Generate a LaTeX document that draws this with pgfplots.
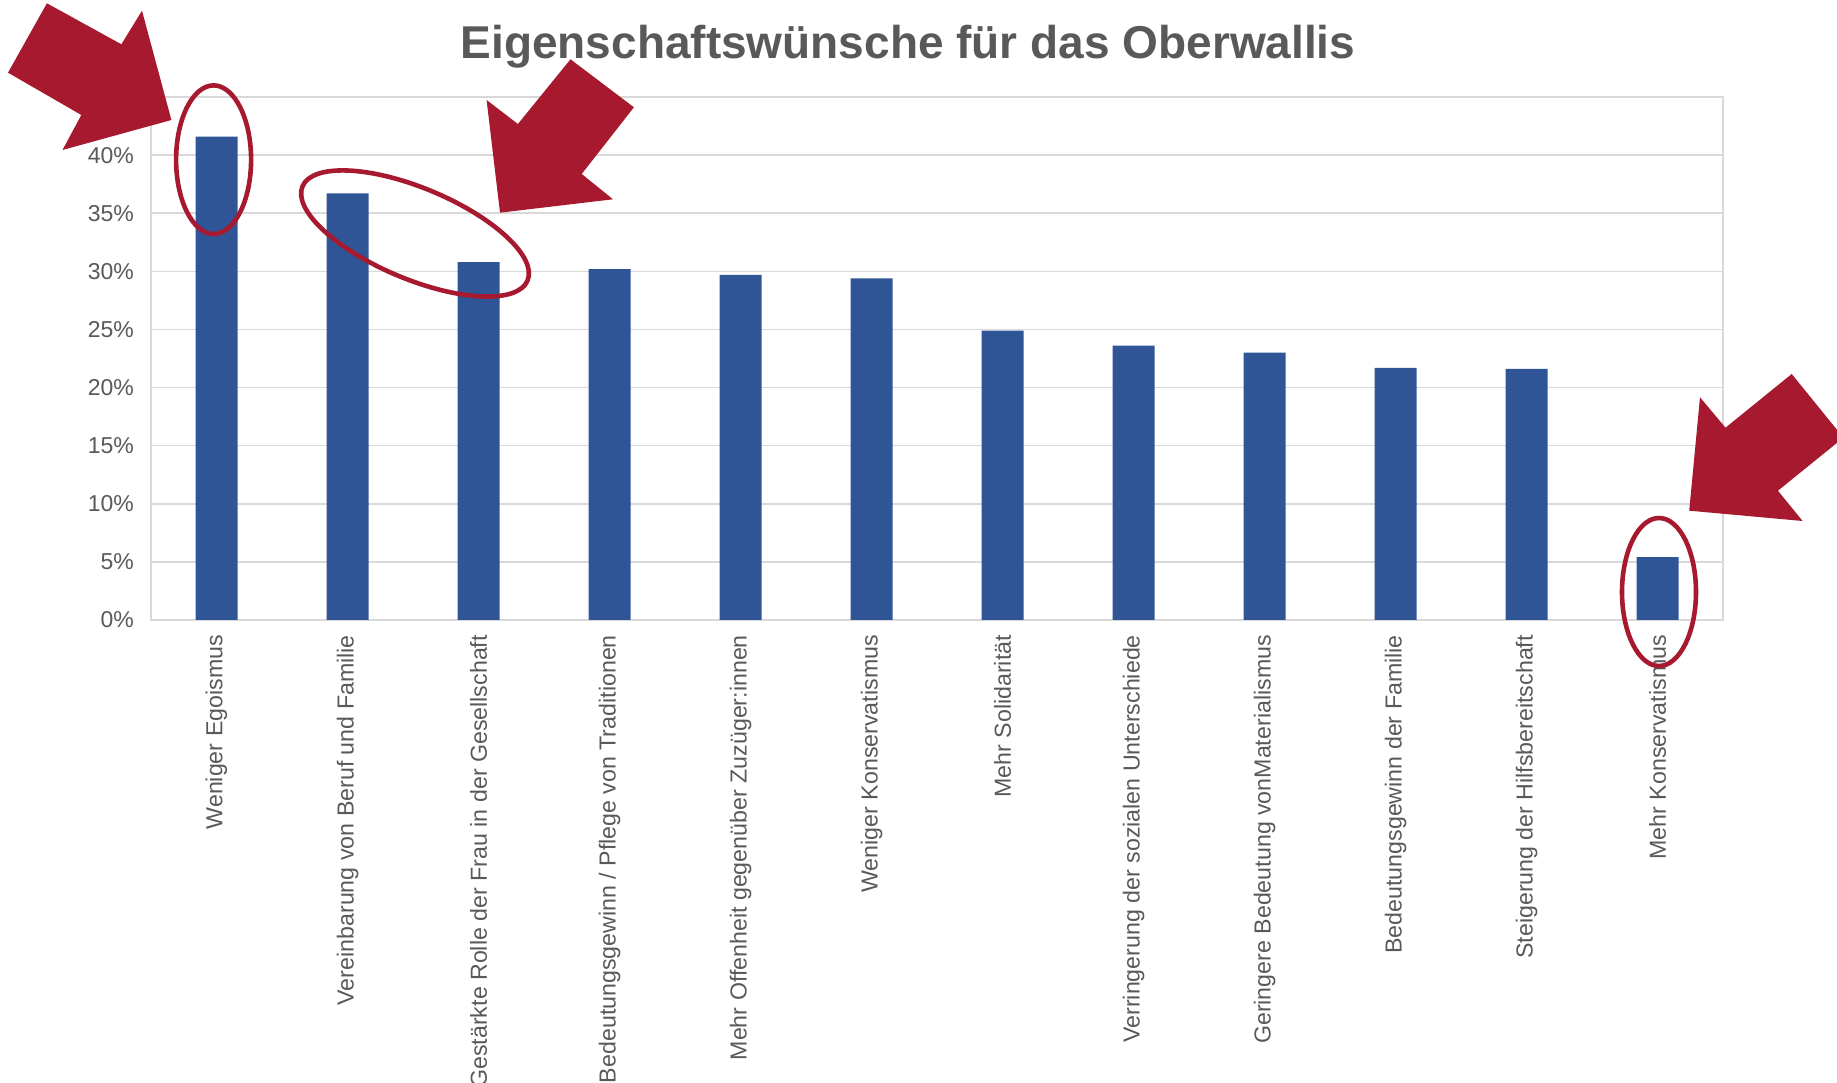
\documentclass[border=0pt]{standalone}
\usepackage{pgfplots}
\pgfplotsset{compat=1.18}
\usepackage{fontspec}
\setmainfont{Liberation Sans}
\definecolor{barblue}{HTML}{2F5597}
\definecolor{txtgray}{HTML}{595959}
\definecolor{gridgray}{HTML}{D9D9D9}
\definecolor{annred}{HTML}{A6192E}
\begin{document}
\begin{tikzpicture}
\useasboundingbox (0,0) rectangle (918.5pt,541pt);
\begin{axis}[
  at={(75.5pt,231pt)}, anchor=south west,
  scale only axis, width=786pt, height=261.5pt,
  xmin=-0.5, xmax=11.5, ymin=0, ymax=45,
  xtick={0,...,11},
  xticklabels={Weniger Egoismus,Vereinbarung von Beruf und Familie,Gestärkte Rolle der Frau in der Gesellschaft,Bedeutungsgewinn / Pflege von Traditionen,Mehr Offenheit gegenüber Zuzüger:innen,Weniger Konservatismus,Mehr Solidarität,Verringerung der sozialen Unterschiede,Geringere Bedeutung vonMaterialismus,Bedeutungsgewinn der Familie,Steigerung der Hilfsbereitschaft,Mehr Konservatismus},
  x tick label style={rotate=90, anchor=east, font=\fontsize{11.6}{13}\selectfont, text=txtgray},
  xticklabel shift={4pt},
  ytick={0,5,...,40},
  yticklabels={0\%,5\%,10\%,15\%,20\%,25\%,30\%,35\%,40\%},
  y tick label style={font=\fontsize{11.5}{13}\selectfont, text=txtgray, xshift=-5pt},
  major tick length=0pt,
  ymajorgrids, grid style={gridgray, line width=0.75pt},
  axis line style={gridgray, line width=0.75pt},
  ybar, bar width=21pt,
]
\addplot[fill=barblue, draw=none] coordinates {
(0,41.6) (1,36.7) (2,30.8) (3,30.2) (4,29.7) (5,29.4)
(6,24.9) (7,23.6) (8,23.0) (9,21.7) (10,21.6) (11,5.4)};
\end{axis}
\node[font=\bfseries\fontsize{23}{27}\selectfont, text=txtgray, anchor=base] at (454pt,511.7pt) {Eigenschaftswünsche für das Oberwallis};
% annotations
\begin{scope}[x=0.5pt, y=-0.5pt, shift={(0pt,541pt)}]
\fill[annred] (46.9,3.3) -- (121.4,44.3) -- (142,10.7) -- (171.4,120) -- (62.5,150) -- (81.3,115) -- (8,72.7) -- cycle;
\fill[annred] (570.5,59.3) -- (633.9,107.3) -- (581.7,174) -- (613,199.3) -- (500,212.7) -- (486.6,100) -- (517.9,124) -- cycle;
\fill[annred] (1791.7,374) -- (1843.4,437.7) -- (1777.9,490.7) -- (1802.6,521) -- (1689.2,510.7) -- (1700,397.3) -- (1725.5,427.7) -- cycle;
\end{scope}
\draw[annred, line width=2.3pt] (106.8pt,461.15pt) ellipse [x radius=18.75pt, y radius=37.15pt];
\draw[annred, line width=2.3pt, rotate around={-22.7:(207.5pt,424.25pt)}] (207.5pt,424.25pt) ellipse [x radius=61pt, y radius=22.75pt];
\draw[annred, line width=2.3pt] (829.5pt,245pt) ellipse [x radius=18.5pt, y radius=37pt];
\end{tikzpicture}
\end{document}
